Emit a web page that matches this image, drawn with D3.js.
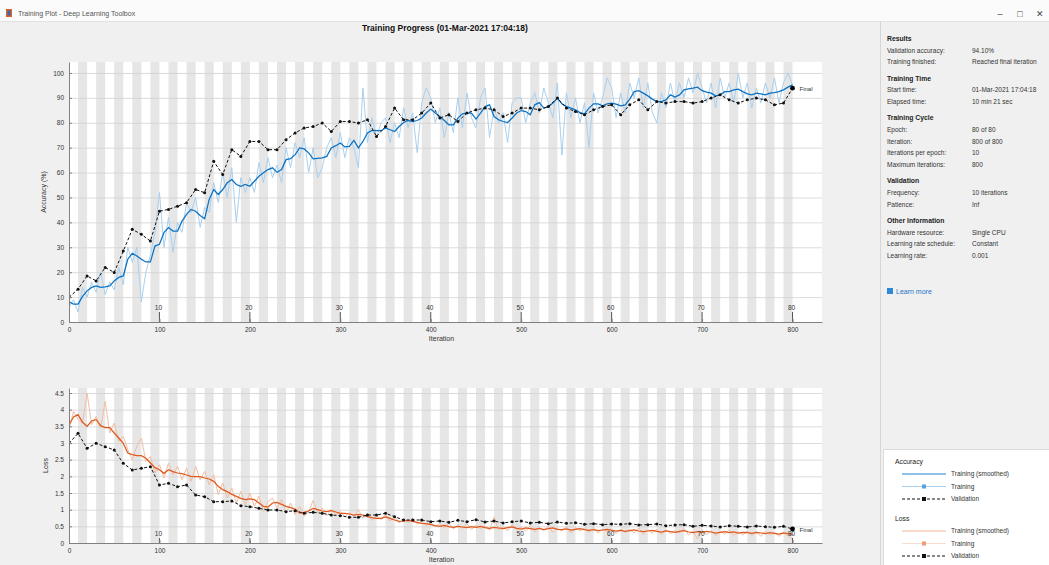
<!DOCTYPE html>
<html><head><meta charset="utf-8">
<script src="https://cdn.jsdelivr.net/npm/d3@7"></script>
<style>
body{margin:0;background:#f0f0f0;overflow:hidden;}
svg text{font-family:"Liberation Sans",Arial,sans-serif;}
</style></head><body>
<svg id="c" width="1049" height="565"></svg>
<script>
// ---------- data ----------
const windowTitle = "Training Plot - Deep Learning Toolbox";
const chartTitle = "Training Progress (01-Mar-2021 17:04:18)";
const trainStep = 5;   // iterations between stored training samples
const valStep = 10;    // validation frequency (iterations)
const itersPerEpoch = 10;
const numEpochs = 80;
const xTicks = [0,100,200,300,400,500,600,700,800];
const accTicks = [0,10,20,30,40,50,60,70,80,90,100];
const lossTicks = [0,0.5,1,1.5,2,2.5,3,3.5,4,4.5];
const epochLabels = [10,20,30,40,50,60,70,80];

const accSmoothed = [
8.1,7.2,7.2,10.3,12.5,13.9,14.5,13.9,14.1,14.5,
16.5,17.9,18.5,25.2,27.6,26.5,25.2,24.1,24.1,30.5,
31.2,35.9,37.9,36.5,36.5,40.5,43.2,45.2,44.5,42.8,
41.5,49.2,53.2,51.2,53.2,55.9,57.2,55.2,54.5,55.2,
54.5,56.5,58.5,59.9,61.2,61.9,60.1,61.2,65.2,65.6,
67.2,69.9,69.5,67.9,65.5,65.7,65.9,66.5,69.9,70.8,
71.9,70.3,70.5,72.9,69.9,72.5,75.9,76.9,76.8,76.8,
77.9,77.2,76.5,78.5,80.1,80.9,80.5,80.9,81.9,83.9,
85.5,83.9,82.5,80.9,79.2,79.2,81.9,83.6,83.9,83.9,
81.5,83.9,86.5,87.2,82.5,81.2,80.5,80.1,81.9,83.9,
84.9,84.5,83.2,87.2,88.1,85.9,86.5,87.9,89.9,87.6,
86.5,85.9,85.2,84.1,83.6,85.9,87.6,87.6,86.8,87.6,
87.9,87.5,86.8,87.2,89.5,92.5,92.9,91.9,90.8,89.5,
88.5,88.5,89.2,91.2,90.3,91.2,93.2,93.6,93.9,94.3,
92.9,92.3,91.9,90.8,91.2,92.5,92.5,93.2,93.5,92.5,
91.6,91.2,91.9,91.6,91.2,91.9,92.1,92.5,93.2,94.3,
95.2];
const accRaw = [
6,9,4,14,10,16,12,20,11,16,
13,22,15,30,24,30,8,20,27,36,
52,30,42,28,40,36,48,44,50,38,
46,44,56,48,60,50,62,40,58,52,
58,52,64,56,66,58,63,56,70,62,
72,66,74,60,70,58,62,70,74,66,
76,66,74,70,62,94,72,82,74,80,
82,72,80,74,86,78,84,68,88,94,
90,80,86,74,84,76,90,78,92,82,
78,90,94,74,86,80,84,72,88,90,
90,80,88,92,84,94,88,82,96,67,
92,82,90,80,88,70,92,84,90,98,
94,82,92,84,96,90,98,86,96,84,
80,92,86,96,88,96,90,98,92,100,
94,88,96,86,98,90,96,88,100,90,
96,86,94,88,96,90,98,88,96,100,
95];
const accVal = [
9.9,13.2,18.5,16.5,21.9,19.9,28.5,37.2,35.2,32.5,
44.5,45.2,46.5,47.9,53.2,51.9,64.5,59.2,69.2,66.5,
72.5,72.5,69.2,69.2,73.2,75.9,77.9,78.5,79.9,76.5,
80.5,80.5,79.9,81.2,74.5,78.5,85.9,81.2,81.2,83.9,
87.9,81.9,83.2,80.5,83.9,85.2,85.9,85.2,82.5,83.9,
85.9,85.9,85.2,86.5,89.9,85.9,84.5,83.2,85.2,86.5,
87.2,83.2,87.2,89.2,85.2,88.5,87.9,88.5,88.5,87.9,
88.5,89.9,91.2,89.2,87.9,89.2,89.9,89.2,87.2,87.9,
93.9];

const lossSmoothed = [
3.55,3.78,3.85,3.62,3.50,3.66,3.70,3.52,3.46,3.46,
3.30,3.15,2.99,2.70,2.65,2.62,2.62,2.54,2.40,2.26,
2.20,2.09,2.20,2.14,2.10,2.08,2.04,2.00,1.99,1.99,
1.95,1.92,1.85,1.70,1.60,1.54,1.46,1.40,1.34,1.30,
1.32,1.30,1.20,1.10,1.08,1.20,1.22,1.16,1.10,1.06,
1.02,0.90,0.92,0.96,1.04,1.00,0.96,0.94,0.97,0.93,
0.89,0.89,0.87,0.84,0.86,0.84,0.79,0.76,0.74,0.74,
0.78,0.74,0.69,0.65,0.66,0.68,0.65,0.62,0.59,0.58,
0.55,0.52,0.50,0.53,0.49,0.47,0.50,0.48,0.46,0.49,
0.47,0.50,0.46,0.44,0.47,0.45,0.43,0.46,0.48,0.44,
0.42,0.45,0.43,0.41,0.44,0.40,0.43,0.45,0.41,0.40,
0.42,0.39,0.41,0.43,0.40,0.38,0.40,0.37,0.39,0.41,
0.38,0.36,0.38,0.35,0.37,0.39,0.36,0.34,0.36,0.38,
0.35,0.33,0.36,0.34,0.32,0.35,0.37,0.33,0.31,0.34,
0.32,0.35,0.33,0.30,0.32,0.34,0.31,0.33,0.30,0.32,
0.31,0.29,0.32,0.30,0.28,0.31,0.29,0.27,0.30,0.28,
0.26];
const lossRaw = [
3.40,3.95,3.70,3.60,4.50,3.55,3.80,3.45,4.25,3.30,
3.60,3.05,3.20,2.80,2.50,2.90,3.15,2.45,2.60,2.10,
2.35,1.95,2.40,2.05,2.30,1.90,2.25,1.85,2.30,1.90,
2.15,1.75,2.05,1.45,1.80,1.35,1.65,1.20,1.55,1.15,
1.50,1.10,1.40,0.95,1.25,1.35,1.05,1.30,0.90,1.20,
0.85,1.10,0.80,0.95,1.28,0.90,1.05,0.82,1.00,0.85,
0.95,0.78,0.92,0.80,1.00,0.74,0.90,0.68,0.82,0.70,
0.86,0.66,0.80,0.60,0.72,0.62,0.74,0.56,0.66,0.52,
0.62,0.48,0.58,0.45,0.60,0.42,0.55,0.44,0.58,0.40,
0.54,0.42,0.52,0.38,0.78,0.40,0.50,0.36,0.56,0.40,
0.48,0.36,0.52,0.34,0.46,0.38,0.50,0.32,0.44,0.36,
0.50,0.30,0.46,0.36,0.44,0.32,0.48,0.30,0.42,0.34,
0.44,0.28,0.42,0.32,0.40,0.30,0.45,0.26,0.40,0.30,
0.42,0.26,0.40,0.28,0.38,0.30,0.44,0.24,0.36,0.12,
0.40,0.24,0.38,0.22,0.36,0.26,0.40,0.22,0.34,0.24,
0.36,0.22,0.34,0.20,0.36,0.24,0.32,0.20,0.30,0.22,
0.10];
const lossVal = [
2.99,3.29,2.84,2.99,2.89,2.79,2.39,2.19,2.24,2.29,
1.74,1.79,1.69,1.74,1.44,1.39,1.24,1.24,1.26,1.12,
1.09,1.04,0.99,0.99,0.94,0.97,0.89,0.92,0.89,0.84,
0.82,0.77,0.77,0.84,0.84,0.89,0.79,0.69,0.69,0.69,
0.64,0.66,0.62,0.68,0.64,0.70,0.63,0.66,0.60,0.64,
0.66,0.60,0.62,0.58,0.63,0.59,0.61,0.56,0.58,0.55,
0.57,0.56,0.58,0.54,0.55,0.57,0.52,0.54,0.55,0.50,
0.53,0.51,0.48,0.52,0.50,0.48,0.51,0.49,0.47,0.50,
0.42];

const infoSections = [
  {head:"Results", rows:[["Validation accuracy:","94.10%"],["Training finished:","Reached final iteration"]]},
  {head:"Training Time", rows:[["Start time:","01-Mar-2021 17:04:18"],["Elapsed time:","10 min 21 sec"]]},
  {head:"Training Cycle", rows:[["Epoch:","80 of 80"],["Iteration:","800 of 800"],["Iterations per epoch:","10"],["Maximum iterations:","800"]]},
  {head:"Validation", rows:[["Frequency:","10 iterations"],["Patience:","Inf"]]},
  {head:"Other Information", rows:[["Hardware resource:","Single CPU"],["Learning rate schedule:","Constant"],["Learning rate:","0.001"]]}
];
const accLegend = ["Training (smoothed)","Training","Validation"];
const lossLegend = ["Training (smoothed)","Training","Validation"];

// ---------- drawing ----------
const svg = d3.select("#c");
const FONT = "'Liberation Sans',Arial,sans-serif";

// window title bar
svg.append("rect").attr("x",0).attr("y",0).attr("width",1049).attr("height",21).attr("fill","#fbfbfb");
svg.append("line").attr("x1",0).attr("x2",1049).attr("y1",21.5).attr("y2",21.5).attr("stroke","#e2e2e2");
svg.append("rect").attr("x",6).attr("y",9).attr("width",6).attr("height",8).attr("fill","#d9602b");
svg.append("rect").attr("x",7.5).attr("y",10.5).attr("width",3).attr("height",5).attr("fill","#2f6db5");
svg.append("text").attr("x",18).attr("y",16).attr("font-size",7).attr("fill","#555").text(windowTitle);
const ctrl = ["\u2013","\u25A1","\u2715"];
ctrl.forEach((c,i)=>svg.append("text").attr("x",1000+i*20).attr("y",17).attr("font-size",9).attr("fill","#444").attr("text-anchor","middle").text(c));

// main title
svg.append("text").attr("x",445).attr("y",31).attr("text-anchor","middle").attr("font-size",8.5)
  .attr("font-weight","bold").attr("fill","#111").text(chartTitle);

const xMaxIter = 832.6;
const iterations = (arr, step) => arr.map((v,i)=>({it:i*step, v}));

function drawPanel(cfg){
  const x = d3.scaleLinear().domain([0, xMaxIter]).range([cfg.left, cfg.right]);
  const y = d3.scaleLinear().domain([0, cfg.yMax]).range([cfg.bottom, cfg.top]);
  const g = svg.append("g");
  const clipId = "clip"+cfg.id;
  svg.append("clipPath").attr("id",clipId).append("rect")
    .attr("x",cfg.left).attr("y",cfg.top).attr("width",cfg.right-cfg.left).attr("height",cfg.bottom-cfg.top);
  g.append("rect").attr("x",cfg.left).attr("y",cfg.top).attr("width",cfg.right-cfg.left)
    .attr("height",cfg.bottom-cfg.top).attr("fill","#fff");
  const pg = g.append("g").attr("clip-path",`url(#${clipId})`);
  // epoch bands (even epochs shaded)
  const shaded = d3.range(2, numEpochs+1, 2);
  pg.selectAll("rect.band").data(shaded).join("rect").attr("class","band")
    .attr("x",e=>x((e-1)*itersPerEpoch)).attr("width",e=>x(e*itersPerEpoch)-x((e-1)*itersPerEpoch))
    .attr("y",cfg.top).attr("height",cfg.bottom-cfg.top).attr("fill","#e6e6e6");
  // horizontal grid
  pg.selectAll("line.grid").data(cfg.ticks).join("line").attr("class","grid")
    .attr("x1",cfg.left).attr("x2",cfg.right).attr("y1",d=>y(d)+0.5).attr("y2",d=>y(d)+0.5)
    .attr("stroke","#d2d2d2").attr("stroke-width",0.8);
  const line = d3.line().x(d=>x(d.it)).y(d=>y(d.v));
  pg.append("path").attr("d",line(iterations(cfg.raw,trainStep))).attr("fill","none")
    .attr("stroke",cfg.rawColor).attr("stroke-width",1);
  pg.append("path").attr("d",line(iterations(cfg.smooth,trainStep))).attr("fill","none")
    .attr("stroke",cfg.smoothColor).attr("stroke-width",1.25);
  const vdata = iterations(cfg.val,valStep);
  pg.append("path").attr("d",line(vdata)).attr("fill","none")
    .attr("stroke","#111").attr("stroke-width",1).attr("stroke-dasharray","3,2");
  pg.selectAll("circle.v").data(vdata).join("circle").attr("class","v")
    .attr("cx",d=>x(d.it)).attr("cy",d=>y(d.v)).attr("r",1.5).attr("fill","#111");
  const last = vdata[vdata.length-1];
  g.append("circle").attr("cx",x(last.it)).attr("cy",y(last.v)).attr("r",2.4).attr("fill","#000");
  g.append("text").attr("x",x(last.it)+7).attr("y",y(last.v)+2.5).attr("font-size",6).attr("fill","#333").text("Final");
  // epoch labels
  epochLabels.forEach(e=>{
    const xi = x(e*itersPerEpoch);
    g.append("text").attr("x",xi-1).attr("y",cfg.bottom-cfg.epochOff).attr("text-anchor","middle")
      .attr("font-size",6.5).attr("fill","#333").text(e);
    g.append("line").attr("x1",xi).attr("x2",xi).attr("y1",cfg.bottom-cfg.epochOff+2).attr("y2",cfg.bottom)
      .attr("stroke","#555").attr("stroke-width",1);
  });
  // axes
  const ax = g.append("g").attr("transform",`translate(0,${cfg.bottom})`)
    .call(d3.axisBottom(x).tickValues(xTicks).tickSizeInner(-3).tickSizeOuter(0).tickPadding(5).tickFormat(d3.format("d")));
  const ay = g.append("g").attr("transform",`translate(${cfg.left},0)`)
    .call(d3.axisLeft(y).tickValues(cfg.ticks).tickSizeInner(-3).tickSizeOuter(0).tickPadding(5).tickFormat(cfg.fmt));
  [ax,ay].forEach(a=>{
    a.select(".domain").attr("stroke","#808080");
    a.selectAll(".tick line").attr("stroke","#808080");
    a.selectAll("text").attr("font-size",6.5).attr("fill","#333").attr("font-family",FONT);
  });
  g.append("text").attr("x",(cfg.left+cfg.right)/2-4).attr("y",cfg.bottom+19).attr("text-anchor","middle")
    .attr("font-size",7).attr("fill","#333").text("Iteration");
  g.append("text").attr("transform",`translate(${cfg.ylabX},${(cfg.top+cfg.bottom)/2}) rotate(-90)`)
    .attr("text-anchor","middle").attr("font-size",7).attr("fill","#333").text(cfg.ylabel);
}

drawPanel({id:"acc", left:69, right:822, top:62, bottom:322, yMax:104.4, ticks:accTicks,
  raw:accRaw, smooth:accSmoothed, val:accVal, rawColor:"#a9d0ef", smoothColor:"#0a72c4",
  fmt:d3.format("d"), ylabel:"Accuracy (%)", ylabX:46, epochOff:12});
drawPanel({id:"loss", left:69, right:822, top:388, bottom:543, yMax:4.65, ticks:lossTicks,
  raw:lossRaw, smooth:lossSmoothed, val:lossVal, rawColor:"#f3bea4", smoothColor:"#de5a1e",
  fmt:d=>d3.format("")(d), ylabel:"Loss", ylabX:48, epochOff:7});

// right info panel
svg.append("line").attr("x1",880.5).attr("x2",880.5).attr("y1",22).attr("y2",565).attr("stroke","#d6d6d6");
let yy = 41;
infoSections.forEach(sec=>{
  svg.append("text").attr("x",887).attr("y",yy).attr("font-size",6.8).attr("font-weight","bold").attr("fill","#222").text(sec.head);
  yy += 11.5;
  sec.rows.forEach(r=>{
    svg.append("text").attr("x",887).attr("y",yy).attr("font-size",6.5).attr("fill","#333").text(r[0]);
    svg.append("text").attr("x",972).attr("y",yy).attr("font-size",6.5).attr("fill","#333").text(r[1]);
    yy += 11.8;
  });
  yy += 4.5;
});
svg.append("rect").attr("x",887).attr("y",288).attr("width",6).attr("height",6).attr("fill","#2d8ad6");
svg.append("text").attr("x",896).attr("y",294).attr("font-size",7).attr("fill","#1a73c9").text("Learn more");

// legend box
svg.append("rect").attr("x",883.5).attr("y",449.5).attr("width",166).attr("height",116).attr("fill","#fff").attr("stroke","#dcdcdc");
svg.append("text").attr("x",895).attr("y",464).attr("font-size",6.8).attr("fill","#222").text("Accuracy");
svg.append("text").attr("x",895).attr("y",521).attr("font-size",6.8).attr("fill","#222").text("Loss");
function legendRows(labels, y0, cols){
  labels.forEach((lab,i)=>{
    const yv = y0 + i*12.5;
    const l = svg.append("line").attr("x1",902).attr("x2",946).attr("y1",yv).attr("y2",yv);
    if(i===0) l.attr("stroke",cols[0]).attr("stroke-width",1.3);
    if(i===1){ l.attr("stroke",cols[1]).attr("stroke-width",1);
      svg.append("rect").attr("x",922).attr("y",yv-2).attr("width",4).attr("height",4).attr("fill",cols[2]); }
    if(i===2){ l.attr("stroke","#111").attr("stroke-width",1).attr("stroke-dasharray","3,2");
      svg.append("rect").attr("x",922).attr("y",yv-2).attr("width",4).attr("height",4).attr("fill","#111"); }
    svg.append("text").attr("x",951).attr("y",yv+2.3).attr("font-size",6.5).attr("fill","#333").text(lab);
  });
}
legendRows(accLegend, 474, ["#6aaee4","#a9d0ef","#5aa0dc"]);
legendRows(lossLegend, 531, ["#f6cdb8","#f8ddd0","#ee9a74"]);
</script>
</body></html>
